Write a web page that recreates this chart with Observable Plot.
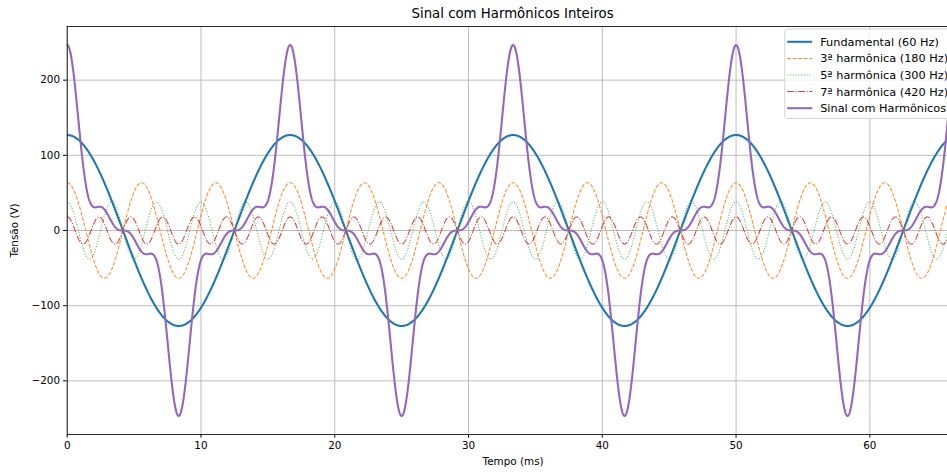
<!DOCTYPE html>
<html>
<head>
<meta charset="utf-8">
<script src="https://cdn.jsdelivr.net/npm/d3@7"></script>
<script src="https://cdn.jsdelivr.net/npm/@observablehq/plot@0.6"></script>
<style>
  html, body { margin: 0; padding: 0; background: #fff; overflow: hidden; width: 947px; height: 474px; }
  #wrap { position: relative; width: 960px; }
  #title { position: relative; height: 25px; font-family: "DejaVu Sans", sans-serif; font-size: 13.3px; color: #000; }
  #title span { position: absolute; left: 512.6px; top: 6px; transform: translateX(-50%); white-space: nowrap; }
  svg { display: block; overflow: visible; }
</style>
</head>
<body>
<div id="wrap">
  <div id="title"><span>Sinal com Harmônicos Inteiros</span></div>
  <div id="chart"></div>
</div>
<script>
// ---- data ----
const seriesLabels = ["Fundamental (60 Hz)", "3ª harmônica (180 Hz)", "5ª harmônica (300 Hz)", "7ª harmônica (420 Hz)"];
const sumLabel = "Sinal com Harmônicos";
const frequencies = [60, 180, 300, 420];          // Hz
const amplitudes = [127, 63.5, 38.1, 18.1];        // V (peak)
const xTicks = [0, 10, 20, 30, 40, 50, 60];
const yTicks = [-200, -100, 0, 100, 200];
const tMaxMs = 1000 * 4 / 60;                      // four fundamental cycles
const nSamples = 2400;

// ---- styles ----
const colors = ["#1f77b4", "#ff7f0e", "#2ca02c", "#d62728"];
const sumColor = "#9467bd";
const s = 75 / 72;
const dashes = [null, [3.7 * s, 1.6 * s], [1 * s, 1.65 * s], [6.4 * s, 1.6 * s, 1 * s, 1.6 * s]];
const widths = [2 * s, 1 * s, 1 * s, 1 * s];
const opac = [1, 0.9, 0.8, 0.9];

// ---- build samples ----
const rows = [];
const sumRows = [];
for (let i = 0; i <= nSamples; i++) {
  const t = tMaxMs * i / nSamples;
  let total = 0;
  frequencies.forEach((f, k) => {
    const v = amplitudes[k] * Math.cos(2 * Math.PI * f * t / 1000);
    total += v;
    rows.push({ t, v, k });
  });
  sumRows.push({ t, v: total });
}

const ampSum = d3.sum(amplitudes);
const yPad = ampSum * 0.1;

const marks = [
  Plot.gridX(xTicks, { stroke: "#b0b0b0", strokeOpacity: 1, strokeWidth: 0.8 * s }),
  Plot.gridY(yTicks, { stroke: "#b0b0b0", strokeOpacity: 1, strokeWidth: 0.8 * s }),
];
frequencies.forEach((f, k) => {
  marks.push(Plot.line(rows.filter(d => d.k === k), {
    x: "t", y: "v", stroke: colors[k], strokeWidth: widths[k], strokeOpacity: opac[k],
    strokeDasharray: dashes[k] ? dashes[k].join(",") : undefined,
    strokeLinecap: "butt", curve: "linear", clip: true
  }));
});
marks.push(Plot.line(sumRows, { x: "t", y: "v", stroke: sumColor, strokeWidth: 2 * s, clip: true }));
marks.push(Plot.frame({ stroke: "#000", strokeWidth: 0.8 * s }));
marks.push(Plot.axisX({ ticks: xTicks, tickSize: 3.6, tickPadding: 3.5, tickFormat: d => String(d),
  fontSize: 10.4, label: "Tempo (ms)", labelAnchor: "center", labelArrow: "none", labelOffset: 30 }));
marks.push(Plot.axisY({ ticks: yTicks, tickSize: 3.6, tickPadding: 3.5, tickFormat: d => d < 0 ? "\u2212" + Math.abs(d) : String(d),
  fontSize: 10.4, label: "Tensão (V)", labelAnchor: "center", labelArrow: "none", labelOffset: 57 }));

const chart = Plot.plot({
  width: 960,
  height: 449,
  marginTop: 1,
  marginBottom: 40,
  marginLeft: 66.7,
  marginRight: 1.5,
  style: { fontFamily: "DejaVu Sans, sans-serif", fontSize: "10.4px", color: "#000", background: "#fff" },
  x: { domain: [0, tMaxMs] },
  y: { domain: [-ampSum - yPad, ampSum + yPad] },
  marks
});
document.getElementById("chart").appendChild(chart);

// ---- legend (upper right, inside axes) ----
const svg = d3.select(chart);
const legendLabels = [...seriesLabels, sumLabel];
const legendColors = [...colors, sumColor];
const legendDash = [...dashes, null];
const legendW = [...widths, 2 * s];
const legendOp = [...opac, 1];
const lx = 784.7, ly = 29 - 25, lh = 16.6;
const g = svg.append("g").attr("font-family", "DejaVu Sans, sans-serif").attr("font-size", 11.3).attr("text-anchor", "start");
g.append("rect").attr("x", lx).attr("y", ly).attr("width", 175).attr("height", 89.5)
  .attr("rx", 2.5).attr("fill", "#fff").attr("fill-opacity", 0.8).attr("stroke", "#cccccc").attr("stroke-width", 0.8 * s);
legendLabels.forEach((lab, i) => {
  const y = ly + 12.8 + i * lh;
  g.append("line").attr("x1", lx + 2.5).attr("x2", lx + 27.5).attr("y1", y).attr("y2", y)
    .attr("stroke", legendColors[i]).attr("stroke-width", legendW[i]).attr("stroke-opacity", legendOp[i])
    .attr("stroke-dasharray", legendDash[i] ? legendDash[i].join(",") : null);
  g.append("text").attr("x", lx + 35.5).attr("y", y).attr("dy", "0.35em").attr("text-anchor", "start").attr("fill", "#000").text(lab);
});
</script>
</body>
</html>
